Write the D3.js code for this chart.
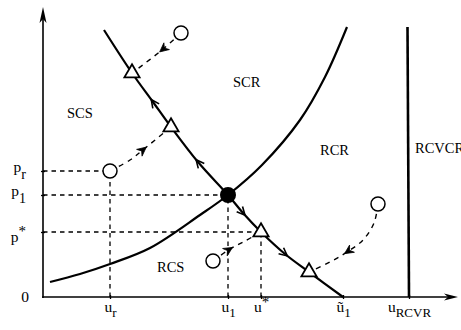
<!DOCTYPE html>
<html><head><meta charset="utf-8">
<script src="https://cdn.jsdelivr.net/npm/d3@7"></script>
<style>
html,body{margin:0;padding:0;background:#fff;}
svg{display:block;}
text{font-family:"Liberation Serif","DejaVu Serif",serif;fill:#000;}
</style></head><body>
<svg id="c" width="461" height="330"></svg>
<script>
// ---- data (schematic units) ----
const uTicks = [6.7, 18.5, 21.8, 30.0, 36.6];
const uTickBase = ["u","u","u","\u0169","u"];
const uTickSub  = ["r","1","","1","RCVR"];
const uTickSup  = ["","","*","",""];
const pTicks = [12.6, 10.2, 6.5];
const pTickBase = ["p","p","p"];
const pTickSub  = ["r","1",""];
const pTickSup  = ["","","*"];
const regionNames = ["SCS","SCR","RCR","RCVCR","RCS"];
const regionU = [2.4, 19.0, 27.7, 37.2, 11.4];
const regionP = [17.9, 21.0, 14.2, 14.4, 2.5];
// ascending boundary curve
const curveAU = [0.7, 3.7, 6.7, 10.7, 15.7, 18.5, 21.9, 25.7, 28.2, 30.4];
const curveAP = [1.5, 2.3, 3.3, 4.9, 8.2, 10.2, 13.2, 17.7, 22.0, 27.0];
// descending curve (through equilibria)
const curveDU = [6.1, 8.9, 11.0, 12.8, 15.5, 18.5, 20.0, 21.8, 24.2, 26.6, 30.0];
const curveDP = [26.7, 22.4, 19.5, 17.0, 13.5, 10.2, 8.4, 6.5, 4.3, 2.5, 0];
const curveArrowIdx = [2, 4, 6, 8];
const curveArrowDir = [-1, -1, 1, 1];
// RCVR boundary
const rcvrTop = 27.0;
// markers
const triU = [8.9, 12.8, 21.8, 26.6];
const triP = [22.4, 17.0, 6.5, 2.5];
const circU = [13.8, 6.7, 17.0, 33.5];
const circP = [26.4, 12.6, 3.6, 9.3];
const nodeU = 18.5, nodeP = 10.2;
// trajectories (circle -> triangle)
const traj1U = [13.8, 11.9, 8.9],  traj1P = [26.4, 24.7, 22.4];
const traj2U = [6.7, 8.7, 10.1, 12.8], traj2P = [12.6, 13.7, 14.8, 17.0];
const traj3U = [17.0, 18.7, 20.2, 21.8], traj3P = [3.6, 4.8, 5.6, 6.5];
const traj4U = [33.5, 33.1, 32.0, 30.4, 28.7, 26.6], traj4P = [9.3, 7.4, 5.7, 4.5, 3.5, 2.5];
const trajArrowIdx = [1, 2, 1, 3];

// ---- drawing ----
const svg = d3.select("#c");
const x = d3.scaleLinear().domain([0, 41.5]).range([43, 458]);
const y = d3.scaleLinear().domain([0, 29]).range([297, 7]);
const zip = (U, P) => U.map((u, i) => [u, P[i]]);
const line = d3.line().x(d => x(d[0])).y(d => y(d[1])).curve(d3.curveCatmullRom.alpha(0.5));
const straight = d3.line().x(d => x(d[0])).y(d => y(d[1]));

// guide dashed lines
const dash = "4.5,4";
[0,1,2].forEach(i => {
  const u = uTicks[i], p = pTicks[i];
  svg.append("path").attr("d", straight([[0, p], [u, p]]))
    .attr("stroke", "#000").attr("stroke-width", 1.3).attr("stroke-dasharray", dash).attr("fill", "none");
  svg.append("path").attr("d", straight([[u, 0], [u, p]]))
    .attr("stroke", "#000").attr("stroke-width", 1.3).attr("stroke-dasharray", dash).attr("fill", "none");
});

// trajectories
const trajs = [zip(traj1U, traj1P), zip(traj2U, traj2P), zip(traj3U, traj3P), zip(traj4U, traj4P)];
trajs.forEach(t => {
  svg.append("path").attr("d", line(t)).attr("fill", "none")
    .attr("stroke", "#000").attr("stroke-width", 1.4).attr("stroke-dasharray", "5,5");
});

// curves
const curveA = zip(curveAU, curveAP), curveD = zip(curveDU, curveDP);
svg.append("path").attr("d", line(curveA)).attr("fill", "none").attr("stroke", "#000").attr("stroke-width", 2.2);
svg.append("path").attr("d", line(curveD)).attr("fill", "none").attr("stroke", "#000").attr("stroke-width", 2.2);
svg.append("line").attr("x1", x(uTicks[4]) - 1.5).attr("x2", x(uTicks[4])).attr("y1", y(rcvrTop)).attr("y2", y(0))
  .attr("stroke", "#000").attr("stroke-width", 2.6);

// axes
const xAxis = d3.axisBottom(x).tickValues(uTicks).tickSize(4).tickFormat("");
const gx = svg.append("g").attr("transform", `translate(0,${y(0)})`).call(xAxis);
gx.select(".domain").remove();
gx.selectAll(".tick line").attr("y1", -2).attr("y2", 2).attr("stroke-width", 1.3);
gx.selectAll(".tick text").remove();
gx.selectAll(".tick").each(function(d, i) {
  const t = d3.select(this).append("text").attr("text-anchor", "middle").attr("y", 15)
    .attr("font-size", 15.5).attr("fill", "#000");
  t.append("tspan").text(uTickBase[i]);
  if (uTickSub[i]) t.append("tspan").attr("font-size", 13).attr("dy", 5).text(uTickSub[i]);
  if (uTickSup[i]) t.append("tspan").attr("font-size", 15).attr("dy", -5).text(uTickSup[i]);
});
const yAxis = d3.axisLeft(y).tickValues(pTicks).tickSize(4).tickFormat("");
const gy = svg.append("g").attr("transform", `translate(${x(0)},0)`).call(yAxis);
gy.select(".domain").remove();
gy.selectAll(".tick line").attr("x1", -2).attr("x2", 2).attr("stroke-width", 1.3);
gy.selectAll(".tick text").remove();
gy.selectAll(".tick").each(function(d, i) {
  const t = d3.select(this).append("text").attr("text-anchor", "end").attr("x", -17)
    .attr("y", pTickSup[i] ? 9 : 0).attr("font-size", 15.5).attr("fill", "#000");
  t.append("tspan").text(pTickBase[i]);
  if (pTickSub[i]) t.append("tspan").attr("font-size", 14).attr("dy", 7).text(pTickSub[i]);
  if (pTickSup[i]) t.append("tspan").attr("font-size", 15).attr("dy", -6).text(pTickSup[i]);
});
svg.append("text").attr("x", x(0) - 14).attr("y", y(0) + 5).attr("text-anchor", "end").attr("font-size", 15.5).text("0");

// axis lines with arrowheads
svg.append("line").attr("x1", x(0) - 1).attr("x2", x(41.5) - 8).attr("y1", y(0)).attr("y2", y(0))
  .attr("stroke", "#000").attr("stroke-width", 1.6);
svg.append("line").attr("x1", x(0)).attr("x2", x(0)).attr("y1", y(0) + 1).attr("y2", y(29) + 10)
  .attr("stroke", "#000").attr("stroke-width", 1.6);
const xe = x(41.5), ye = y(0);
svg.append("path").attr("d", `M${xe},${ye} L${xe - 14},${ye - 3.5} L${xe - 10},${ye} L${xe - 14},${ye + 3.5} Z`).attr("fill", "#000");
const ya = y(29), xa = x(0);
svg.append("path").attr("d", `M${xa},${ya} L${xa - 3.5},${ya + 16} L${xa},${ya + 12} L${xa + 3.5},${ya + 16} Z`).attr("fill", "#000");

// arrow helpers
function vArrow(px, py, ang, len, open) {
  const a = 0.45;
  const bx1 = px - len * Math.cos(ang - a), by1 = py - len * Math.sin(ang - a);
  const bx2 = px - len * Math.cos(ang + a), by2 = py - len * Math.sin(ang + a);
  if (open) {
    svg.append("path").attr("d", `M${bx1},${by1} L${px},${py} L${bx2},${by2}`)
      .attr("fill", "none").attr("stroke", "#000").attr("stroke-width", 1.6);
  } else {
    const nx = px - 0.6 * len * Math.cos(ang), ny = py - 0.6 * len * Math.sin(ang);
    svg.append("path").attr("d", `M${px},${py} L${bx1},${by1} L${nx},${ny} L${bx2},${by2} Z`)
      .attr("fill", "#000").attr("stroke", "#000").attr("stroke-width", 0.8);
  }
}
curveArrowIdx.forEach((k, j) => {
  const d = curveArrowDir[j];
  const a = curveD[k - 1], b = curveD[k + 1];
  const from = d < 0 ? b : a, to = d < 0 ? a : b;
  const ang = Math.atan2(y(to[1]) - y(from[1]), x(to[0]) - x(from[0]));
  vArrow(x(curveD[k][0]) + 3 * Math.cos(ang), y(curveD[k][1]) + 3 * Math.sin(ang), ang, 9, true);
});
trajs.forEach((t, j) => {
  const k = trajArrowIdx[j];
  const a = t[k - 1], b = t[k + 1];
  const ang = Math.atan2(y(b[1]) - y(a[1]), x(b[0]) - x(a[0]));
  vArrow(x(t[k][0]) + 3 * Math.cos(ang), y(t[k][1]) + 3 * Math.sin(ang), ang, 10, false);
});

// markers
const tri = d3.symbol().type(d3.symbolTriangle).size(100);
triU.forEach((u, i) => {
  svg.append("path").attr("d", tri()).attr("transform", `translate(${x(u)},${y(triP[i])})`)
    .attr("fill", "#fff").attr("stroke", "#000").attr("stroke-width", 1.8).attr("stroke-linejoin", "miter");
});
circU.forEach((u, i) => {
  svg.append("circle").attr("cx", x(u)).attr("cy", y(circP[i])).attr("r", 7)
    .attr("fill", "#fff").attr("stroke", "#000").attr("stroke-width", 1.5);
});
svg.append("circle").attr("cx", x(nodeU)).attr("cy", y(nodeP)).attr("r", 8).attr("fill", "#000");

// region labels
regionNames.forEach((n, i) => {
  svg.append("text").attr("x", x(regionU[i])).attr("y", y(regionP[i])).attr("font-size", 14.5).text(n);
});
</script>
</body></html>
